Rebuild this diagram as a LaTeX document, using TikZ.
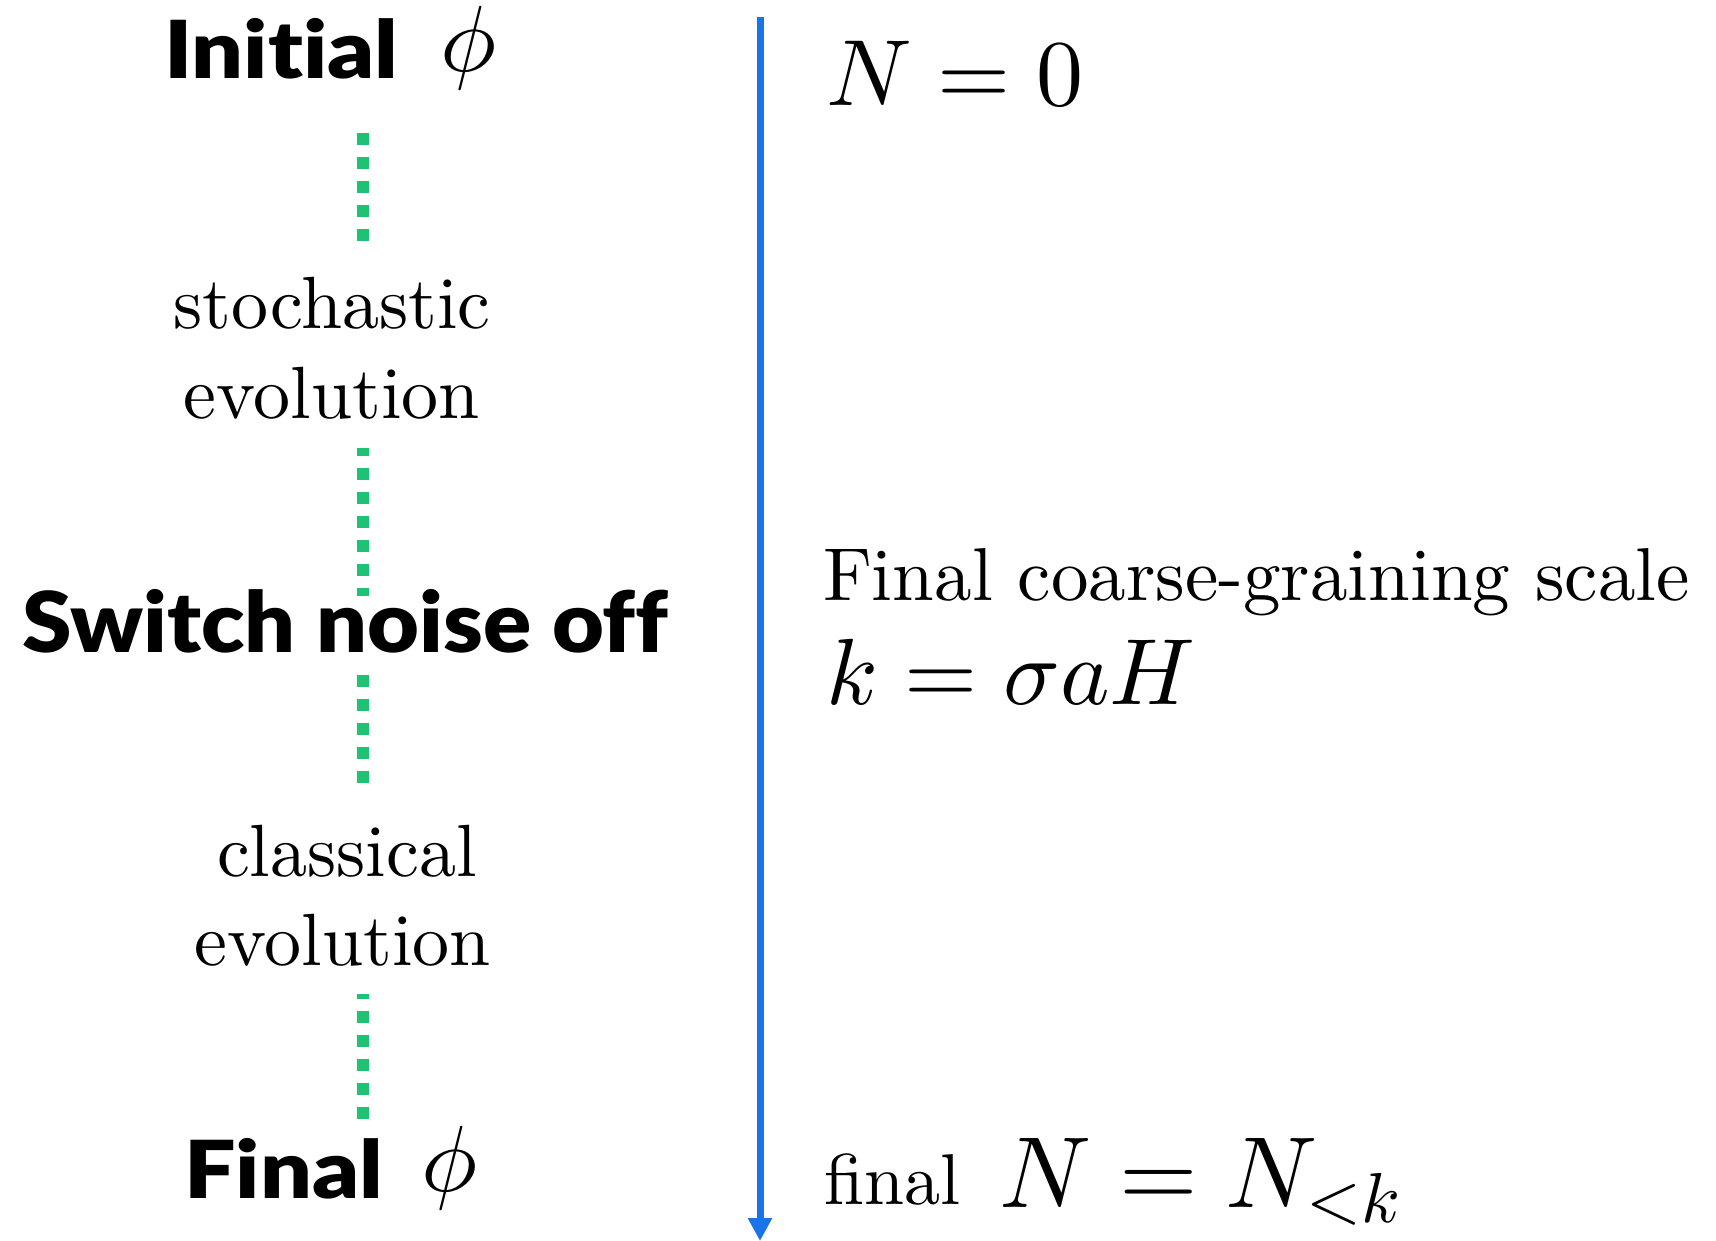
\documentclass[tikz,border=0pt]{standalone}
\usepackage[no-math]{fontspec}
\setmainfont{lmroman10-regular.otf}
\DeclareFontFamily{OML}{cmm}{\skewchar\font127 }
\DeclareFontShape{OML}{cmm}{m}{it}{<->cmmi10}{}
\DeclareFontFamily{OMS}{cmsy}{\skewchar\font48 }
\DeclareFontShape{OMS}{cmsy}{m}{n}{<->cmsy10}{}
\DeclareFontFamily{OT1}{cmr}{\hyphenchar\font45 }
\DeclareFontShape{OT1}{cmr}{m}{n}{<->cmr10}{}
\usetikzlibrary{arrows.meta}
\newfontfamily\heavy{Lato}[UprightFont={* Black}, RawFeature=-liga, FakeStretch=1.14]
\newfontfamily\heavyb{Lato}[UprightFont={* Black}, RawFeature=-liga, FakeStretch=1.065]
\definecolor{arrowblue}{HTML}{1A73E8}
\definecolor{dotgreen}{HTML}{1DC372}
\tikzset{
  lbl/.style={inner sep=0pt, outer sep=0pt},
  heavytext/.style={lbl, font=\heavy\fontsize{80}{90}\selectfont},
  bigheavy/.style={lbl, font=\heavyb\fontsize{84}{90}\selectfont},
  serif/.style={lbl, font=\fontsize{74}{80}\selectfont},
  rserif/.style={lbl, font=\fontsize{75}{80}\selectfont},
  smallserif/.style={lbl, font=\fontsize{72}{80}\selectfont},
  mathtext/.style={lbl, font=\fontsize{94}{100}\selectfont},
  bigmath/.style={lbl, font=\fontsize{101}{110}\selectfont},
  greendots/.style={draw=dotgreen, line width=12pt, dash pattern=on 12pt off 12pt},
  timeline/.style={draw=arrowblue, line width=7pt, -{Triangle[width=23pt,length=23pt]}}
}
\begin{document}
\begin{tikzpicture}[x=1pt,y=-1pt]
\useasboundingbox (0,0) rectangle (1716,1241);
% left column
\node[heavytext, anchor=base west] (init) at (164,79) {Initial};
\node[mathtext, anchor=base west] (initphi) at (440,72) {$\phi$};
\node[serif, anchor=base] (stoch1) at (332,328) {stochastic};
\node[serif, anchor=base] (stoch2) at (332,418) {evolution};
\node[bigheavy, anchor=base west] (switch) at (22,652) {Switch noise off};
\node[serif, anchor=base] (class1) at (347,876) {classical};
\node[serif, anchor=base] (class2) at (343,965) {evolution};
\node[heavytext, anchor=base west] (final) at (184,1198) {Final};
\node[mathtext, anchor=base west] (finalphi) at (421,1191) {$\phi$};
% dotted connectors
\coordinate (d1a) at (362.5,133);  \coordinate (d1b) at (362.5,241);
\coordinate (d2a) at (362.5,448);  \coordinate (d2b) at (362.5,596);
\coordinate (d3a) at (362.5,675);  \coordinate (d3b) at (362.5,783);
\coordinate (d4a) at (362.5,994);  \coordinate (d4b) at (362.5,1119);
\draw[greendots] (d1a) -- (d1b);
\draw[greendots, dash phase=4pt] (d2a) -- (d2b);
\draw[greendots] (d3a) -- (d3b);
\draw[greendots, dash phase=7pt] (d4a) -- (d4b);
% timeline
\coordinate (ttop) at (760,17);
\coordinate (tbot) at (760,1241);
\draw[timeline] (ttop) -- (tbot);
% right column
\node[mathtext, anchor=base west] (n0) at (826,106) {$N=0$};
\node[rserif, anchor=base west] (fcg) at (823,600) {Final coarse-graining scale};
\node[mathtext, anchor=base west] (kah) at (826,704) {$k=\sigma aH$};
\node[smallserif, anchor=base west] (finalw) at (824,1204) {final};
\node[bigmath, anchor=base west] (nnk) at (999,1207) {$N=N_{<k}$};
\end{tikzpicture}
\end{document}
